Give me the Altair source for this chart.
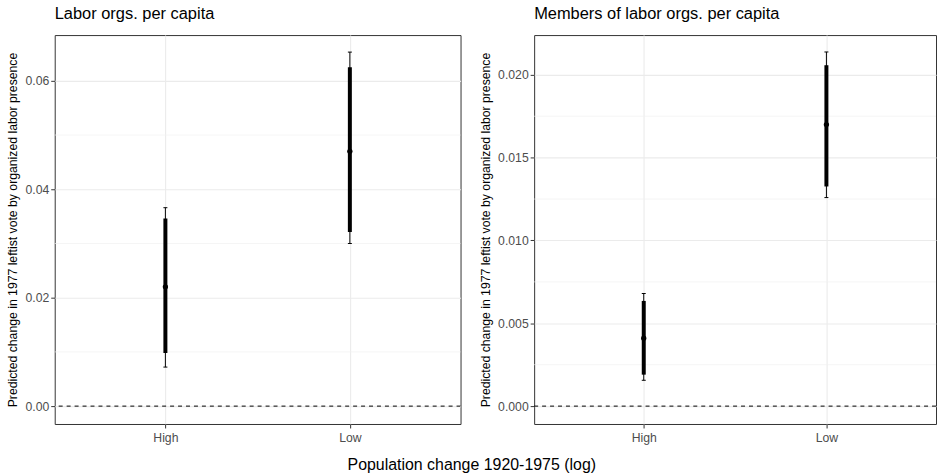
import altair as alt
import pandas as pd

categories = ["High", "Low"]

# Left panel: Labor orgs. per capita
left_est = [0.0220, 0.0470]
left_lo95 = [0.0072, 0.0300]
left_hi95 = [0.0366, 0.0653]
left_lo90 = [0.0098, 0.0321]
left_hi90 = [0.0346, 0.0625]
left_ticks = [0.00, 0.02, 0.04, 0.06]
left_minor = [0.01, 0.03, 0.05]
left_domain = [-0.0033, 0.06844]

# Right panel: Members of labor orgs. per capita
right_est = [0.0041, 0.0170]
right_lo95 = [0.00156, 0.01259]
right_hi95 = [0.00680, 0.02138]
right_lo90 = [0.00190, 0.01326]
right_hi90 = [0.00635, 0.02058]
right_ticks = [0.000, 0.005, 0.010, 0.015, 0.020]
right_minor = [0.0025, 0.0075, 0.0125, 0.0175]
right_domain = [-0.00108, 0.0224]

zero_line = [0.0]

FONT = "Liberation Sans"
YTITLE = "Predicted change in 1977 leftist vote by organized labor presence"


def panel(title, est, lo95, hi95, lo90, hi90, ticks, minor, domain, fmt, width):
    df = pd.DataFrame({"cat": categories, "est": est, "lo95": lo95, "hi95": hi95,
                       "lo90": lo90, "hi90": hi90})
    yscale = alt.Scale(domain=domain, nice=False, zero=False)
    yaxis = alt.Axis(title=YTITLE, values=ticks, format=fmt, grid=True)
    xenc = alt.X("cat:N", scale=alt.Scale(type="point", padding=0.6, domain=categories),
                 axis=alt.Axis(title=None, labelAngle=0, grid=True, labelPadding=4))

    def Y(field):
        return alt.Y(field, type="quantitative", scale=yscale, axis=yaxis)

    minor_grid = alt.Chart(pd.DataFrame({"v": minor})).mark_rule(
        stroke="#F0F0F0", strokeWidth=0.7).encode(y=Y("v"))
    zero = alt.Chart(pd.DataFrame({"v": zero_line})).mark_rule(
        stroke="black", strokeWidth=1, strokeDash=[4, 4]).encode(y=Y("v"))
    base = alt.Chart(df)
    thin = base.mark_rule(stroke="black", strokeWidth=1).encode(
        x=xenc, y=Y("lo95"), y2="hi95")
    cap_lo = base.mark_tick(color="black", size=4, thickness=1, opacity=1).encode(
        x=xenc, y=Y("lo95"))
    cap_hi = base.mark_tick(color="black", size=4, thickness=1, opacity=1).encode(
        x=xenc, y=Y("hi95"))
    thick = base.mark_rule(stroke="black", strokeWidth=4).encode(
        x=xenc, y=Y("lo90"), y2="hi90")
    pt = base.mark_point(filled=True, color="black", size=28, opacity=1).encode(
        x=xenc, y=Y("est"))
    return alt.layer(minor_grid, zero, thin, cap_lo, cap_hi, thick, pt).properties(
        width=width, height=391,
        title=alt.TitleParams(title, anchor="start", frame="group", fontSize=16.5,
                              fontWeight="normal", color="black", font=FONT, offset=13),
    )


left = panel("Labor orgs. per capita", left_est, left_lo95, left_hi95, left_lo90,
             left_hi90, left_ticks, left_minor, left_domain, ".2f", 408)
right = panel("Members of labor orgs. per capita", right_est, right_lo95, right_hi95,
              right_lo90, right_hi90, right_ticks, right_minor, right_domain, ".3f", 404)

chart = alt.hconcat(left, right, spacing=17).properties(
    title=alt.TitleParams("Population change 1920-1975 (log)", orient="bottom",
                          anchor="middle", fontSize=16, fontWeight="normal",
                          color="black", font=FONT, offset=12),
    padding={"left": 6, "top": 4, "right": 0, "bottom": 0},
).configure(
    background="white"
).configure_view(
    stroke="#333333", strokeWidth=1
).configure_axis(
    labelFont=FONT, labelFontSize=12.3, labelColor="#4D4D4D",
    tickColor="#333333", tickSize=4, tickWidth=1, labelPadding=2,
    domain=False, gridColor="#EBEBEB", gridWidth=1.1,
    titleFont=FONT, titleFontSize=12.3, titleFontWeight="normal", titleColor="black",
    titlePadding=5,
)

chart.save("out.html", embed_options={"renderer": "svg", "actions": False})
